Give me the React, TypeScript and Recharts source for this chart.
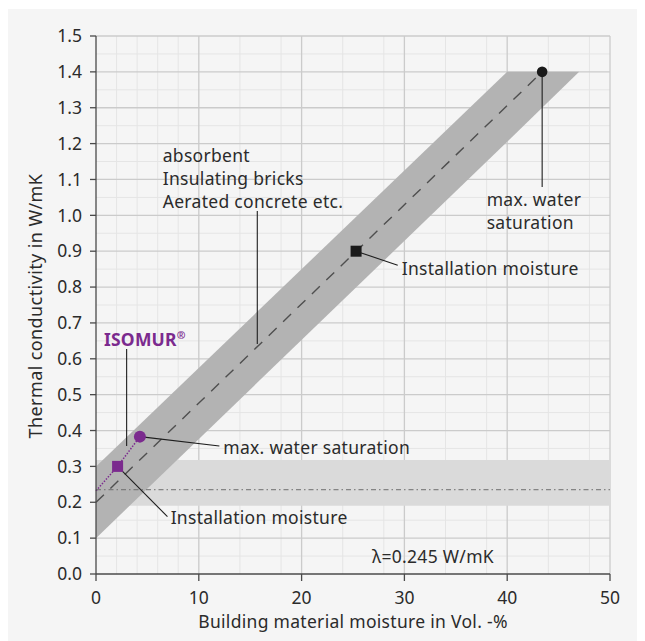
import React from 'react';
import { ComposedChart, XAxis, YAxis, CartesianGrid, Area, Line, Scatter, Label } from 'recharts';

// ---- data ----
const xTicks = [0, 10, 20, 30, 40, 50];
const yTicks = [0, 0.1, 0.2, 0.3, 0.4, 0.5, 0.6, 0.7, 0.8, 0.9, 1.0, 1.1, 1.2, 1.3, 1.4, 1.5];
const minorX = [2, 4, 6, 8, 12, 14, 16, 18, 22, 24, 26, 28, 32, 34, 36, 38, 42, 44, 46, 48];
const minorY = [0.05, 0.15, 0.25, 0.35, 0.45, 0.55, 0.65, 0.75, 0.85, 0.95, 1.05, 1.15, 1.25, 1.35, 1.45];
const majorX = [10, 20, 30, 40, 50];
const majorY = [0.1, 0.2, 0.3, 0.4, 0.5, 0.6, 0.7, 0.8, 0.9, 1.0, 1.1, 1.2, 1.3, 1.4, 1.5];

// absorbent building materials band (moisture %, [low, high] conductivity)
const bandData = [
  { x: 0, r: [0.1, 0.3] },
  { x: 40, r: [1.205, 1.4] },
  { x: 47, r: [1.4, 1.4] },
];
// ISOMUR lambda band
const lambdaBand = [
  { x: 0, r: [0.19, 0.318] },
  { x: 50, r: [0.19, 0.318] },
];
const lambdaLine = [
  { x: 0, y: 0.235 },
  { x: 50, y: 0.235 },
];
const centerLine = [
  { x: 0, y: 0.2 },
  { x: 43.4, y: 1.4 },
];
const isomurLine = [
  { x: 0, y: 0.232 },
  { x: 2.1, y: 0.3 },
  { x: 4.27, y: 0.383 },
];
const isomurInstall = [{ x: 2.1, y: 0.3 }];
const isomurSat = [{ x: 4.27, y: 0.383 }];
const brickInstall = [{ x: 25.3, y: 0.9 }];
const brickSat = [{ x: 43.4, y: 1.4 }];

// leader lines
const leaderIsomur = [{ x: 2.98, y: 0.627 }, { x: 2.98, y: 0.357 }];
const leaderIsoSat = [{ x: 4.27, y: 0.383 }, { x: 12.0, y: 0.357 }];
const leaderIsoInst = [{ x: 2.1, y: 0.3 }, { x: 6.95, y: 0.16 }];
const leaderBrickInst = [{ x: 25.3, y: 0.9 }, { x: 29.35, y: 0.861 }];
const leaderBrickSat = [{ x: 43.4, y: 1.4 }, { x: 43.4, y: 1.079 }];
const leaderAbsorbent = [{ x: 15.69, y: 1.012 }, { x: 15.69, y: 0.641 }];

// annotation texts (anchored in data coordinates, left / baseline)
const darkLabels = [
  { x: 6.49, y: 1.149, label: 'absorbent' },
  { x: 6.49, y: 1.084, label: 'Insulating bricks' },
  { x: 6.49, y: 1.021, label: 'Aerated concrete etc.' },
  { x: 38.0, y: 1.026, label: 'max. water' },
  { x: 38.0, y: 0.963, label: 'saturation' },
  { x: 29.74, y: 0.834, label: 'Installation moisture' },
  { x: 12.38, y: 0.334, label: 'max. water saturation' },
  { x: 7.26, y: 0.139, label: 'Installation moisture' },
  { x: 26.85, y: 0.0315, label: 'λ=0.245 W/mK' },
];
const isomurLabel = [{ x: 0.78, y: 0.636, label: 'ISOMUR' }];

const FONT = '"Noto Sans", sans-serif';
const TEXT = '#2b2b2b';
const PURPLE = '#7b2a8e';

const TextShape = (props: any) => (
  <text x={props.cx} y={props.cy} fill={TEXT} fontSize={17.5} letterSpacing={0.3} fontFamily={FONT}>
    {props.payload.label}
  </text>
);
const IsomurShape = (props: any) => (
  <text x={props.cx} y={props.cy} fill={PURPLE} fontSize={17.5} fontWeight={700} letterSpacing={0.2} fontFamily={FONT}>
    {props.payload.label}
    <tspan fontSize={10.5} dy={-7}>®</tspan>
  </text>
);
const SquareShape = (color: string, s: number) => (props: any) => (
  <rect x={props.cx - s / 2} y={props.cy - s / 2} width={s} height={s} fill={color} />
);
const CircleShape = (color: string, r: number) => (props: any) => (
  <circle cx={props.cx} cy={props.cy} r={r} fill={color} />
);

const leader = (data: any[], key: string) => (
  <Line
    key={key}
    data={data}
    dataKey="y"
    type="linear"
    stroke="#1e1e1e"
    strokeWidth={1.1}
    dot={false}
    activeDot={false}
    isAnimationActive={false}
  />
);

export default function App() {
  return (
    <div style={{ width: 635, height: 632, background: '#f5f5f5', marginTop: 1, marginLeft: -1 }}>
      <ComposedChart width={635} height={632} margin={{ top: 27, right: 32, bottom: 0, left: 1 }}>
        <CartesianGrid verticalValues={minorX} horizontalValues={minorY} stroke="#e5e5e5" strokeWidth={1} />
        <CartesianGrid verticalValues={majorX} horizontalValues={majorY} stroke="#cbcbcb" strokeWidth={1.3} />
        <XAxis
          type="number"
          dataKey="x"
          domain={[0, 50]}
          ticks={xTicks}
          height={67}
          tickSize={7}
          tickMargin={11}
          axisLine={{ stroke: '#4a4a4a', strokeWidth: 1.3 }}
          tickLine={{ stroke: '#4a4a4a', strokeWidth: 1.3 }}
          tick={{ fill: TEXT, fontSize: 17.5, fontFamily: FONT }}
        >
          <Label
            content={(p: any) => {
              const vb = p.viewBox;
              return (
                <text x={vb.x + vb.width / 2} y={619} textAnchor="middle" fill={TEXT} fontSize={17.5} letterSpacing={0.3} fontFamily={FONT}>
                  Building material moisture in Vol. -%
                </text>
              );
            }}
          />
        </XAxis>
        <YAxis
          type="number"
          domain={[0, 1.5]}
          ticks={yTicks}
          width={88}
          tickSize={6}
          tickMargin={8}
          tickFormatter={(v: number) => v.toFixed(1)}
          axisLine={{ stroke: '#4a4a4a', strokeWidth: 1.3 }}
          tickLine={{ stroke: '#4a4a4a', strokeWidth: 1.3 }}
          tick={{ fill: TEXT, fontSize: 17.5, fontFamily: FONT }}
        >
          <Label
            content={() => (
              <text
                x={35}
                y={297}
                transform="rotate(-90 35 297)"
                textAnchor="middle"
                fill={TEXT}
                fontSize={18}
                letterSpacing={0.4}
                fontFamily={FONT}
              >
                Thermal conductivity in W/mK
              </text>
            )}
          />
        </YAxis>

        <Area data={lambdaBand} dataKey="r" type="linear" fill="#dadada" fillOpacity={1} stroke="none" isAnimationActive={false} activeDot={false} />
        <Area data={bandData} dataKey="r" type="linear" fill="#b3b3b3" fillOpacity={1} stroke="none" isAnimationActive={false} activeDot={false} />

        <Line data={lambdaLine} dataKey="y" type="linear" stroke="#6e6e6e" strokeWidth={1} strokeDasharray="5 3 1.5 3" dot={false} activeDot={false} isAnimationActive={false} />
        <Line data={centerLine} dataKey="y" type="linear" stroke="#4f4f4f" strokeWidth={1.4} strokeDasharray="11 9" dot={false} activeDot={false} isAnimationActive={false} />
        <Line data={isomurLine} dataKey="y" type="linear" stroke={PURPLE} strokeWidth={1.5} strokeDasharray="1.5 1.5" dot={false} activeDot={false} isAnimationActive={false} />

        {leader(leaderIsomur, 'l1')}
        {leader(leaderIsoSat, 'l2')}
        {leader(leaderIsoInst, 'l3')}
        {leader(leaderBrickInst, 'l4')}
        {leader(leaderBrickSat, 'l5')}
        {leader(leaderAbsorbent, 'l6')}

        <Scatter data={isomurInstall} dataKey="y" shape={SquareShape(PURPLE, 11)} isAnimationActive={false} />
        <Scatter data={isomurSat} dataKey="y" shape={CircleShape(PURPLE, 6)} isAnimationActive={false} />
        <Scatter data={brickInstall} dataKey="y" shape={SquareShape('#1a1a1a', 11)} isAnimationActive={false} />
        <Scatter data={brickSat} dataKey="y" shape={CircleShape('#1a1a1a', 5.3)} isAnimationActive={false} />

        <Scatter data={darkLabels} dataKey="y" shape={TextShape} isAnimationActive={false} />
        <Scatter data={isomurLabel} dataKey="y" shape={IsomurShape} isAnimationActive={false} />
      </ComposedChart>
    </div>
  );
}
